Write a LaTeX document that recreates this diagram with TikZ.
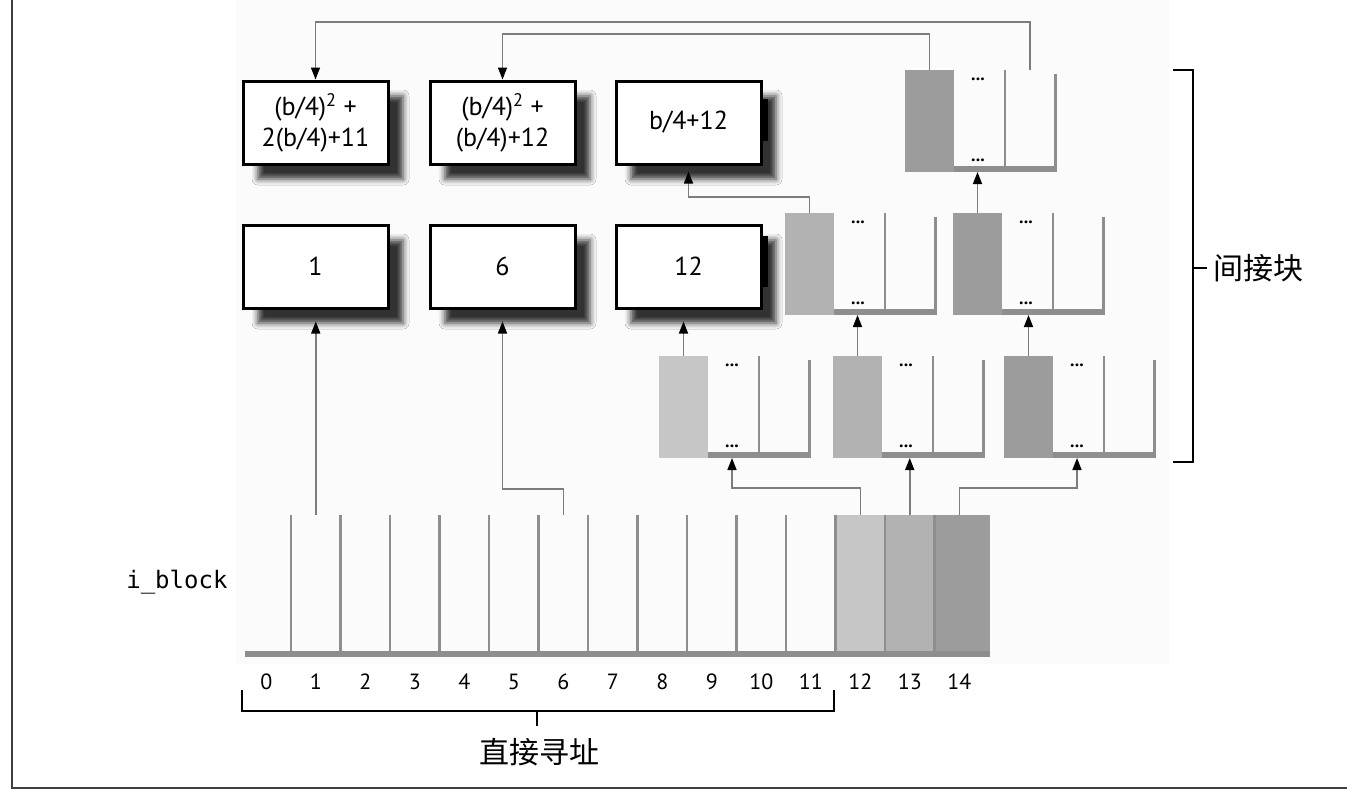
\documentclass[tikz,border=0pt]{standalone}
\usepackage{fontspec}
\setmainfont{PT Sans}
\setmonofont{DejaVu Sans Mono}
\newfontfamily\cjk{Noto Sans CJK SC}
\usepackage{tikz}
\usetikzlibrary{positioning,arrows.meta,shadows.blur}

\definecolor{lvlone}{HTML}{C6C6C6}
\definecolor{lvltwo}{HTML}{B2B2B2}
\definecolor{lvlthree}{HTML}{9C9C9C}
\definecolor{rail}{HTML}{8E8E8E}
\definecolor{wire}{HTML}{7C7C7C}
\definecolor{paper}{HTML}{FBFBFB}

\begin{document}
\begin{tikzpicture}[x=1pt, y=-1pt,
    membox/.style={draw, line width=3pt, fill=white, minimum width=145pt, minimum height=83pt,
        inner sep=0pt, align=center, font=\fontsize{26}{31}\selectfont,
        blur shadow={shadow xshift=15pt, shadow yshift=-15pt, shadow blur radius=6pt, shadow opacity=80}},
    ptrcell/.style={minimum width=49pt, minimum height=102pt, inner sep=0pt, outer sep=0pt},
    slot/.style={minimum width=49.5pt, minimum height=136pt, inner sep=0pt, outer sep=0pt},
    slotline/.style={draw=rail, line width=2.5pt},
    ptr/.style={draw=wire, line width=1.5pt, -{Triangle[length=12pt, width=9pt, color=black]}},
    ellip/.style={font=\fontsize{18}{18}\selectfont\bfseries, inner sep=0pt},
    idx/.style={font=\fontsize{22}{25}\selectfont},
    bracketline/.style={draw=black, line width=1.5pt}]
    \useasboundingbox (0,0) rectangle (1347,796);

    % Page background and frame
    \fill[paper] (236,0) rectangle (1169,664);
    \draw[line width=2pt, black!75] (12,0) -- (12,788) -- (1347,788);

    % Data blocks
    \node[membox] (b1) at (315.5,122.5) {(b/4)\textsuperscript{2} +\\2(b/4)+11};
    \node[membox, right=39pt of b1] (b2) {(b/4)\textsuperscript{2} +\\(b/4)+12};
    \node[membox, right=38pt of b2] (b3) {b/4+12};
    \node[membox, below=58pt of b1] (d1) {1};
    \node[membox, below=58pt of b2] (d2) {6};
    \node[membox, below=58pt of b3] (d3) {12};
    \fill ([yshift=-19pt]b3.north east) rectangle ([xshift=5pt,yshift=-61pt]b3.north east);
    \fill ([yshift=-12pt]d3.north east) rectangle ([xshift=5pt,yshift=-63pt]d3.north east);

    % Indirect blocks: name/left/top/colour
    \foreach \n/\x/\y/\col in {C/659/356/lvlone, D/833/356/lvltwo, E/1004/356/lvlthree,
                               A/785/213/lvltwo, B/953/213/lvlthree, T/905/70/lvlthree} {
        \node[ptrcell, fill=\col, anchor=north west] (\n) at (\x,\y) {};
        \fill[rail] ({\x+49},{\y+96}) rectangle ({\x+152},{\y+102});
        \draw[slotline, line width=2pt] ({\x+100},\y) -- ({\x+100},{\y+96});
        \draw[slotline, line width=3pt] ({\x+150},{\y+4}) -- ({\x+150},{\y+100});
        \node[ellip] (\n-top) at ({\x+73},{\y+9}) {...};
        \node[ellip] (\n-bot) at ({\x+73},{\y+90}) {...};
        \coordinate (\n-in) at ({\x+73},{\y+102});
        \coordinate (\n-far) at ({\x+125},\y);
    }

    % i_block array
    \foreach \k in {0,...,14}
        \node[slot] (c\k) at ({266.25+49.5*\k},583) {};
    \foreach \k/\col in {12/lvlone, 13/lvltwo, 14/lvlthree}
        \fill[\col] (c\k.north west) rectangle (c\k.south east);
    \fill[lvlthree] (c14.north east) rectangle ([xshift=6pt]c14.south east);
    \foreach \k in {0,...,13}
        \draw[slotline] (c\k.north east) -- (c\k.south east);
    \fill[rail] ([xshift=3pt]c0.south west) rectangle ([xshift=6pt,yshift=-6pt]c14.south east);
    \foreach \k in {0,...,14}
        \node[idx] (n\k) at ({266.25+49.5*\k},682) {\k};
    \node[font=\fontsize{24}{24}\selectfont\ttfamily, anchor=east] (ib) at (231,582) {i\_block};

    % Brackets
    \node[font=\cjk\fontsize{30}{30}\selectfont, inner sep=0pt] (direct) at (539,752) {直接寻址};
    \draw[bracketline] (242,690) -- (242,711) -- (834,711) -- (834,690);
    \draw[bracketline] (537,711) -- (537,726);
    \node[font=\cjk\fontsize{30}{30}\selectfont, inner sep=0pt, anchor=west] (indirect) at (1213,268) {间接块};
    \draw[bracketline] (1173,70) -- (1193,70) -- (1193,462) -- (1173,462);
    \draw[bracketline] (1193,268) -- (1207,268);

    % Pointers
    \draw[ptr, shorten >=12pt] (c1.north) -- (c1.north |- d1.south);
    \draw[ptr, shorten >=12pt] (c6.north) -- ++(0,-26) -| (d2.south);
    \draw[ptr, shorten >=12pt] (C.north) -- (C.north |- d3.south);
    \draw[ptr, shorten >=6pt] (A.north) -- ++(0,-16) -| (b3.south);
    \draw[ptr] (c12.north) -- ++(0,-27) -| (C-in);
    \draw[ptr] (c13.north) -- (c13.north |- D-in);
    \draw[ptr] (c14.north) -- ++(0,-27) -| (E-in);
    \draw[ptr] (D.north) -- (D.north |- A-in);
    \draw[ptr] (E.north) -- (E.north |- B-in);
    \draw[ptr] (B.north) -- (B.north |- T-in);
    \draw[ptr] (T.north) -- ++(0,-36) -| (b2.north);
    \draw[ptr] (T-far) -- ++(0,-48) -| (b1.north);
\end{tikzpicture}
\end{document}
